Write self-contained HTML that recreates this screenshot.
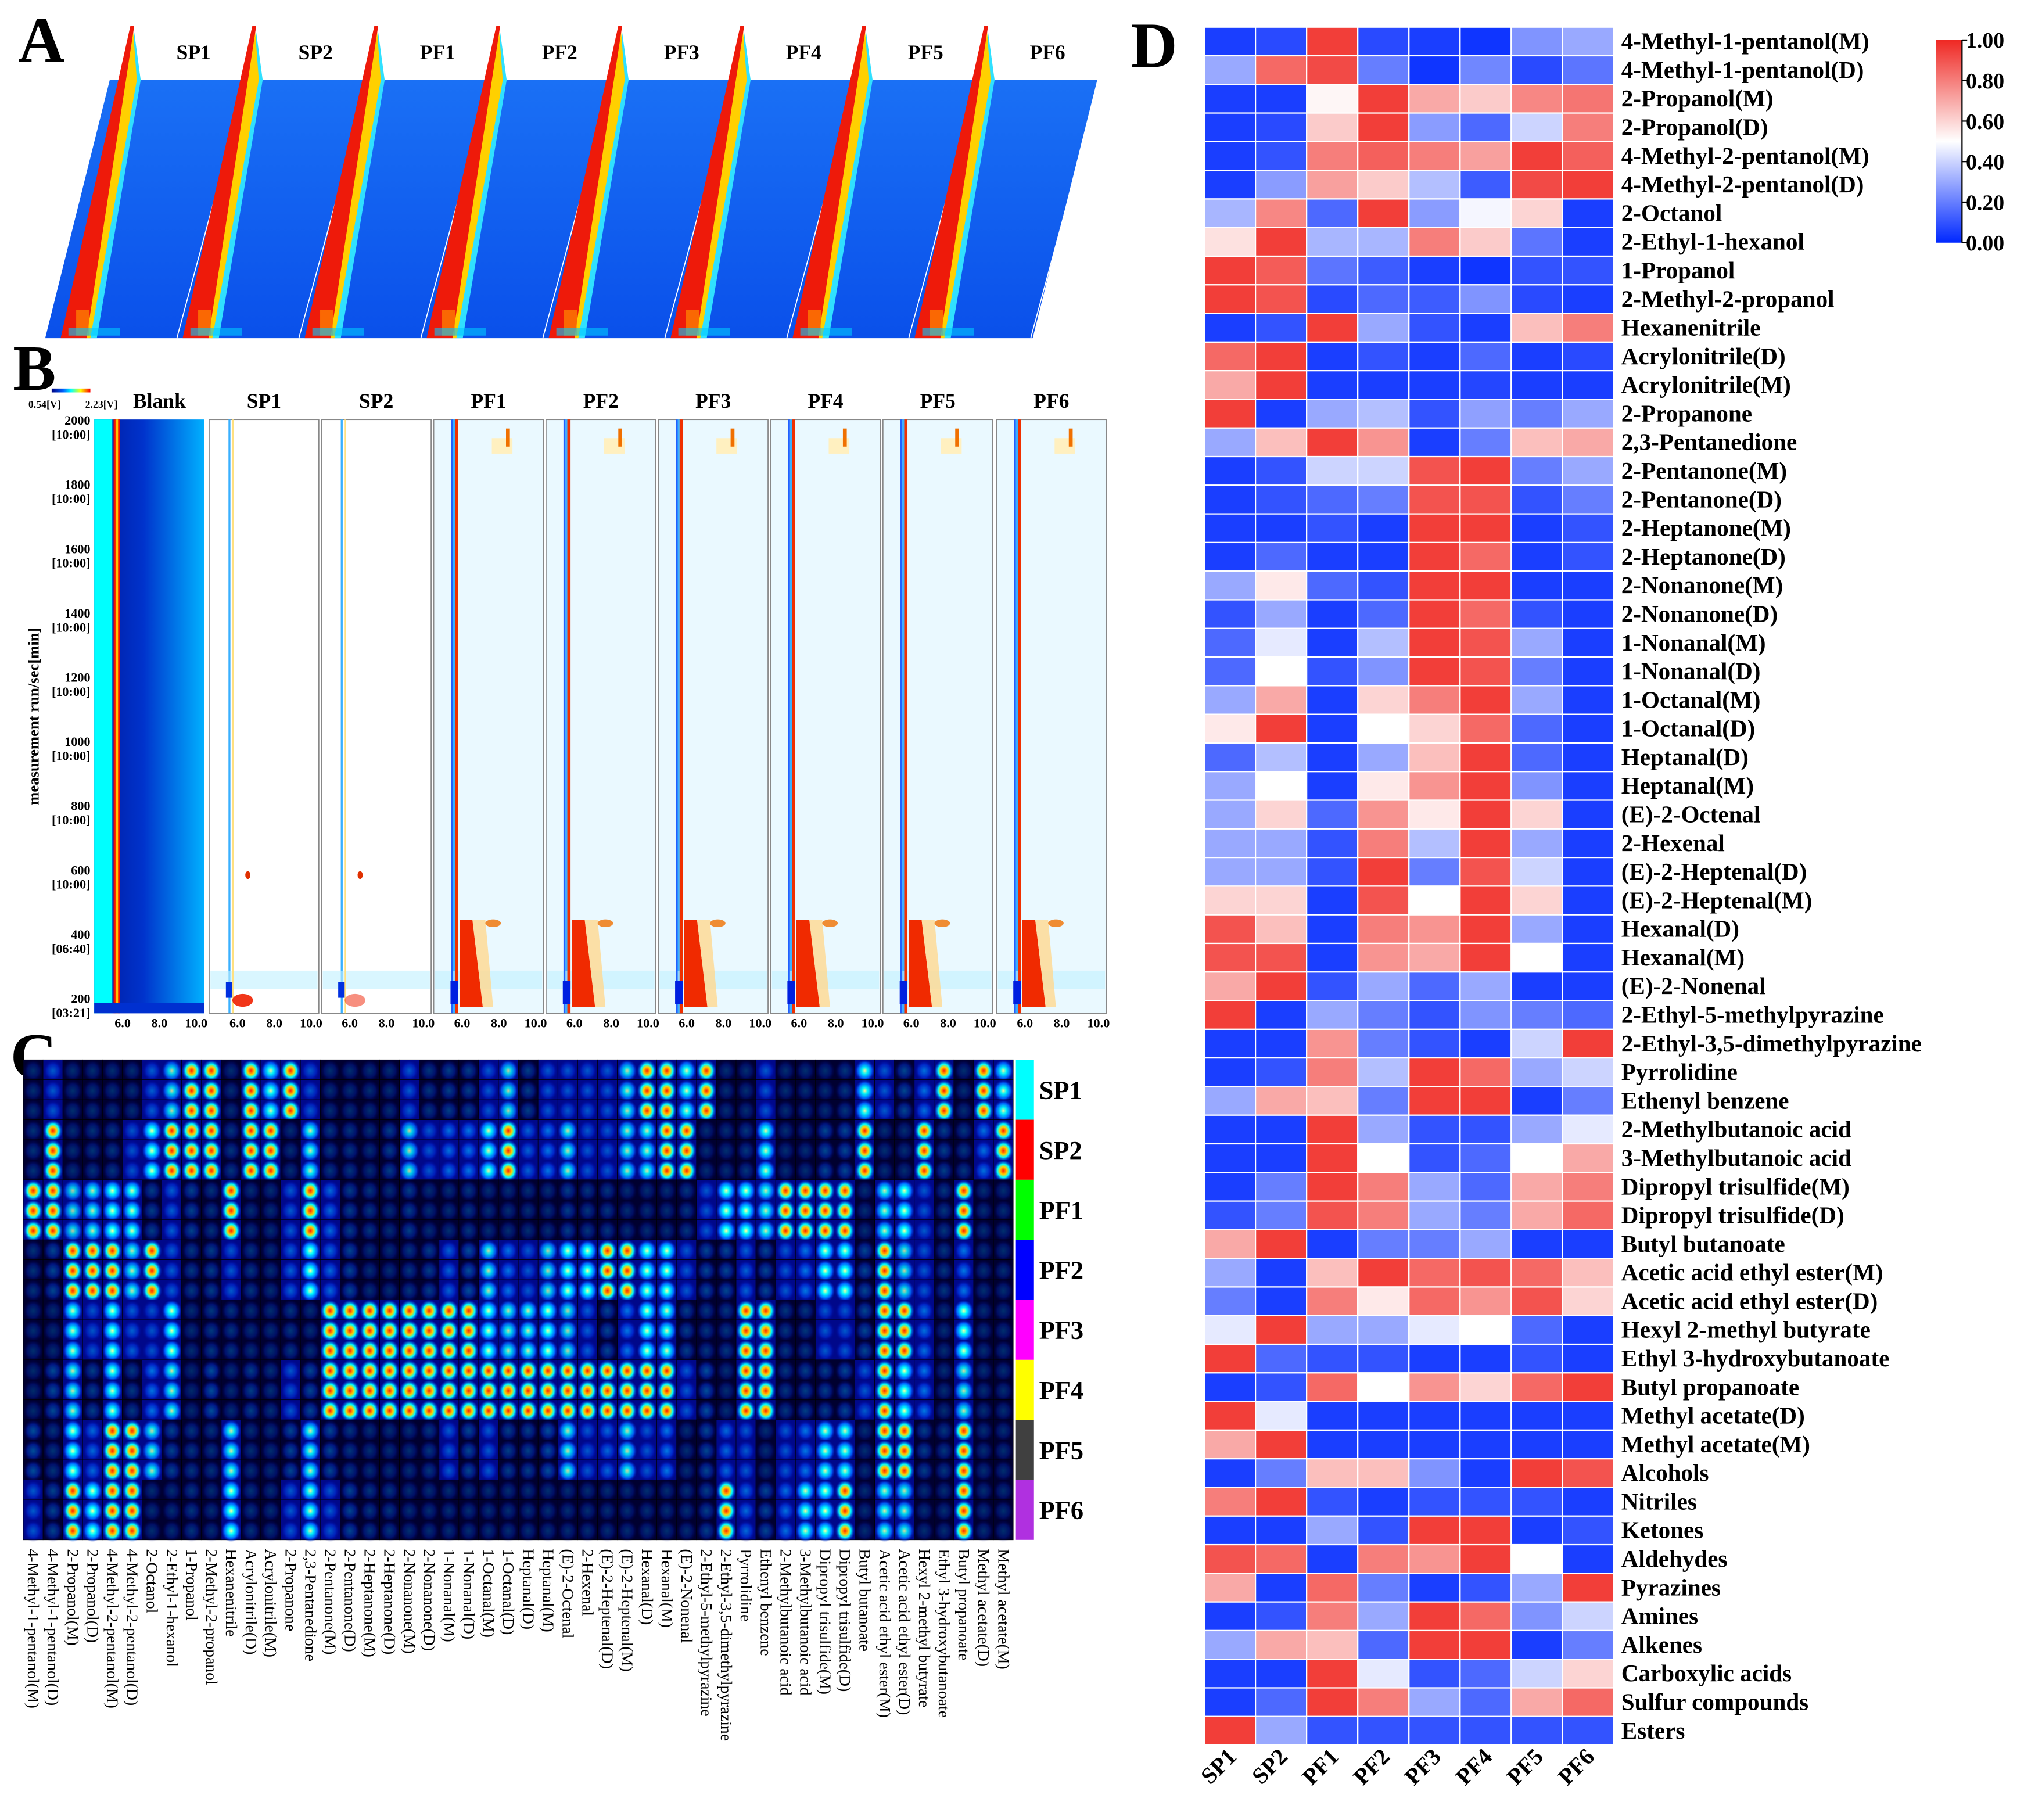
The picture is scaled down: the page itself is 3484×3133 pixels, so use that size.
<!DOCTYPE html>
<html><head><meta charset="utf-8">
<style>html,body{margin:0;padding:0;background:#fff;}svg{display:block;}text{font-family:"Liberation Serif",serif;}</style>
</head><body>
<svg id="fig" xmlns="http://www.w3.org/2000/svg" width="3484" height="3133" viewBox="0 0 1568 1410">
<defs>
<linearGradient id="cbar" x1="0" y1="1" x2="0" y2="0">
<stop offset="0" stop-color="#0028ff"/><stop offset="0.5" stop-color="#ffffff"/><stop offset="1" stop-color="#ef2823"/></linearGradient>
<linearGradient id="blankg" x1="0" x2="1"><stop offset="0" stop-color="#001a9e"/><stop offset="0.45" stop-color="#0033cc"/><stop offset="1" stop-color="#00b0ff"/></linearGradient>
<linearGradient id="minibar" x1="0" x2="1"><stop offset="0" stop-color="#000080"/><stop offset="0.3" stop-color="#0060ff"/><stop offset="0.5" stop-color="#00ffff"/><stop offset="0.75" stop-color="#ffff00"/><stop offset="1" stop-color="#ff0000"/></linearGradient>
<linearGradient id="abg" x1="0" y1="0" x2="0" y2="1"><stop offset="0" stop-color="#1a70f5"/><stop offset="1" stop-color="#0a50ea"/></linearGradient>
<radialGradient id="blobHot"><stop offset="0" stop-color="#ff2000"/><stop offset="0.35" stop-color="#ffd000"/><stop offset="0.6" stop-color="#00ffff"/><stop offset="1" stop-color="#0030ff" stop-opacity="0"/></radialGradient>
<radialGradient id="blobMid"><stop offset="0" stop-color="#ffffa0"/><stop offset="0.3" stop-color="#00ffff"/><stop offset="0.7" stop-color="#0060ff"/><stop offset="1" stop-color="#0020c0" stop-opacity="0"/></radialGradient>
<radialGradient id="blobLow"><stop offset="0" stop-color="#00a0ff"/><stop offset="0.6" stop-color="#0030e0"/><stop offset="1" stop-color="#000090" stop-opacity="0"/></radialGradient>
</defs>
<g id="panelA"></g>
<g id="panelB"></g>
<g id="panelC"></g>
<g id="panelD"></g>
</svg>
<script>
const samples = ["SP1","SP2","PF1","PF2","PF3","PF4","PF5","PF6"];
const compounds = ["4-Methyl-1-pentanol(M)","4-Methyl-1-pentanol(D)","2-Propanol(M)","2-Propanol(D)","4-Methyl-2-pentanol(M)","4-Methyl-2-pentanol(D)","2-Octanol","2-Ethyl-1-hexanol","1-Propanol","2-Methyl-2-propanol","Hexanenitrile","Acrylonitrile(D)","Acrylonitrile(M)","2-Propanone","2,3-Pentanedione","2-Pentanone(M)","2-Pentanone(D)","2-Heptanone(M)","2-Heptanone(D)","2-Nonanone(M)","2-Nonanone(D)","1-Nonanal(M)","1-Nonanal(D)","1-Octanal(M)","1-Octanal(D)","Heptanal(D)","Heptanal(M)","(E)-2-Octenal","2-Hexenal","(E)-2-Heptenal(D)","(E)-2-Heptenal(M)","Hexanal(D)","Hexanal(M)","(E)-2-Nonenal","2-Ethyl-5-methylpyrazine","2-Ethyl-3,5-dimethylpyrazine","Pyrrolidine","Ethenyl benzene","2-Methylbutanoic acid","3-Methylbutanoic acid","Dipropyl trisulfide(M)","Dipropyl trisulfide(D)","Butyl butanoate","Acetic acid ethyl ester(M)","Acetic acid ethyl ester(D)","Hexyl 2-methyl butyrate","Ethyl 3-hydroxybutanoate","Butyl propanoate","Methyl acetate(D)","Methyl acetate(M)","Alcohols","Nitriles","Ketones","Aldehydes","Pyrazines","Amines","Alkenes","Carboxylic acids","Sulfur compounds","Esters"];
const values = [
[0.05,0.08,0.95,0.08,0.05,0.03,0.25,0.3],
[0.3,0.85,0.92,0.2,0.03,0.22,0.08,0.18],
[0.05,0.05,0.52,0.95,0.7,0.62,0.78,0.82],
[0.05,0.08,0.62,0.95,0.27,0.15,0.4,0.8],
[0.05,0.1,0.8,0.87,0.8,0.72,0.95,0.87],
[0.05,0.27,0.72,0.62,0.35,0.12,0.92,0.95],
[0.33,0.78,0.15,0.95,0.27,0.48,0.6,0.05],
[0.57,0.95,0.33,0.33,0.8,0.62,0.18,0.05],
[0.95,0.88,0.18,0.12,0.05,0.03,0.1,0.1],
[0.95,0.9,0.08,0.15,0.12,0.25,0.08,0.05],
[0.05,0.1,0.95,0.3,0.1,0.05,0.65,0.8],
[0.85,0.95,0.05,0.1,0.05,0.15,0.05,0.08],
[0.7,0.95,0.05,0.05,0.05,0.07,0.05,0.05],
[0.95,0.05,0.3,0.35,0.1,0.28,0.2,0.3],
[0.3,0.65,0.95,0.75,0.05,0.2,0.65,0.7],
[0.05,0.1,0.4,0.4,0.9,0.95,0.2,0.3],
[0.05,0.1,0.15,0.2,0.9,0.9,0.1,0.2],
[0.05,0.05,0.1,0.05,0.95,0.95,0.05,0.1],
[0.05,0.15,0.05,0.05,0.95,0.85,0.05,0.1],
[0.3,0.55,0.15,0.1,0.95,0.95,0.05,0.05],
[0.1,0.3,0.05,0.15,0.95,0.85,0.1,0.05],
[0.15,0.45,0.05,0.35,0.95,0.9,0.3,0.05],
[0.15,0.5,0.1,0.25,0.95,0.9,0.2,0.05],
[0.3,0.7,0.05,0.6,0.8,0.95,0.3,0.05],
[0.55,0.95,0.05,0.5,0.6,0.85,0.15,0.05],
[0.15,0.35,0.05,0.3,0.65,0.95,0.15,0.05],
[0.3,0.5,0.05,0.55,0.75,0.95,0.25,0.05],
[0.3,0.6,0.15,0.75,0.55,0.95,0.6,0.05],
[0.3,0.3,0.1,0.8,0.35,0.95,0.3,0.05],
[0.3,0.3,0.1,0.95,0.2,0.9,0.4,0.05],
[0.6,0.6,0.05,0.9,0.5,0.95,0.6,0.05],
[0.9,0.65,0.05,0.8,0.75,0.95,0.3,0.05],
[0.9,0.9,0.05,0.75,0.7,0.95,0.5,0.05],
[0.7,0.95,0.1,0.3,0.15,0.3,0.05,0.05],
[0.95,0.05,0.3,0.2,0.1,0.25,0.2,0.15],
[0.05,0.05,0.75,0.2,0.1,0.05,0.4,0.95],
[0.05,0.1,0.8,0.35,0.95,0.85,0.3,0.4],
[0.3,0.7,0.65,0.2,0.95,0.95,0.05,0.2],
[0.05,0.05,0.95,0.3,0.1,0.1,0.3,0.45],
[0.05,0.05,0.95,0.5,0.1,0.15,0.5,0.7],
[0.05,0.2,0.95,0.8,0.3,0.15,0.7,0.8],
[0.1,0.2,0.9,0.8,0.3,0.2,0.7,0.85],
[0.7,0.95,0.05,0.2,0.2,0.3,0.05,0.05],
[0.3,0.05,0.65,0.95,0.85,0.9,0.85,0.65],
[0.2,0.05,0.8,0.55,0.85,0.75,0.9,0.6],
[0.45,0.95,0.3,0.3,0.45,0.5,0.15,0.05],
[0.95,0.15,0.1,0.1,0.05,0.05,0.1,0.05],
[0.05,0.1,0.85,0.5,0.75,0.6,0.85,0.95],
[0.95,0.45,0.05,0.05,0.05,0.05,0.05,0.05],
[0.7,0.95,0.05,0.05,0.05,0.05,0.05,0.05],
[0.05,0.2,0.65,0.65,0.25,0.05,0.95,0.9],
[0.8,0.95,0.1,0.05,0.1,0.1,0.1,0.05],
[0.05,0.05,0.3,0.1,0.95,0.95,0.05,0.1],
[0.9,0.85,0.05,0.8,0.75,0.95,0.5,0.05],
[0.7,0.05,0.85,0.2,0.05,0.1,0.3,0.95],
[0.05,0.1,0.8,0.3,0.95,0.85,0.25,0.4],
[0.3,0.7,0.65,0.15,0.95,0.95,0.05,0.2],
[0.05,0.05,0.95,0.45,0.1,0.15,0.4,0.6],
[0.05,0.15,0.95,0.8,0.3,0.15,0.7,0.85],
[0.95,0.3,0.1,0.1,0.1,0.1,0.1,0.1]];
const colorbarTicks = [0,0.2,0.4,0.6,0.8,1.0];
const bPanels = ["Blank","SP1","SP2","PF1","PF2","PF3","PF4","PF5","PF6"];
const bYTicks = [200,400,600,800,1000,1200,1400,1600,1800,2000];
const bYSub = ["[03:21]","[06:40]","[10:00]","[10:00]","[10:00]","[10:00]","[10:00]","[10:00]","[10:00]","[10:00]"];
const bXTicks = [6.0,8.0,10.0];
const bandColors = ["#00ffff","#ff0000","#00ff00","#0000ff","#ff00ff","#ffff00","#404040","#b030e0"];

const NS="http://www.w3.org/2000/svg";
function mk(parent,tag,attrs,txt){const e=document.createElementNS(NS,tag);for(const k in attrs)e.setAttribute(k,attrs[k]);if(txt!==undefined)e.textContent=txt;parent.appendChild(e);return e;}
function lerp(a,b,t){return Math.round(a+(b-a)*t);}
function heatColor(v){const B=[0,40,255],W=[255,255,255],R=[240,40,35];let c;if(v<0.5){const t=v/0.5;c=[lerp(B[0],W[0],t),lerp(B[1],W[1],t),lerp(B[2],W[2],t)];}else{const t=(v-0.5)/0.5;c=[lerp(W[0],R[0],t),lerp(W[1],R[1],t),lerp(W[2],R[2],t)];}return `rgb(${c[0]},${c[1]},${c[2]})`;}

// ---------- Panel A ----------
const A=document.getElementById('panelA');
let t=mk(A,'text',{x:14,y:48,'font-size':50,'font-weight':'bold'},'A');

let bg=mk(A,'polygon',{points:"85,62 850,62 800,262 35,262",fill:"url(#abg)"});

const aSamples=["SP1","SP2","PF1","PF2","PF3","PF4","PF5","PF6"];
for(let i=0;i<8;i++){
  const tx=103+i*94.5, bx=tx-52;
  const g=mk(A,'g',{});
  
  mk(g,'line',{x1:bx+86,y1:262,x2:tx+88,y2:62,stroke:"#ffffff","stroke-width":0.8});
  mk(g,'polygon',{points:`${bx+18},262 ${tx+1},25 ${tx+6},62 ${bx+24},262`,fill:"#30e0ff"});
  mk(g,'polygon',{points:`${bx+15},262 ${tx},22 ${tx+3},62 ${bx+19},262`,fill:"#ffd000"});
  mk(g,'polygon',{points:`${bx-4},262 ${tx-2},20 ${tx+1},20 ${bx+16},262`,fill:"#ee1a0a"});
  mk(g,'rect',{x:bx+8,y:240,width:10,height:20,fill:"#ff8a00",opacity:0.7});
  mk(g,'rect',{x:bx+2,y:254,width:40,height:6,fill:"#00c8ff",opacity:0.6});
  const lb=mk(A,'text',{x:tx+47,y:46,'font-size':16,'font-weight':'bold','text-anchor':'middle'},aSamples[i]);
  
}

// ---------- Panel B ----------
const Bp=document.getElementById('panelB');
t=mk(Bp,'text',{x:10,y:302,'font-size':50,'font-weight':'bold'},'B');

let cb=mk(Bp,'rect',{x:40,y:301,width:30,height:3,fill:"url(#minibar)"});

t=mk(Bp,'text',{x:22,y:316,'font-size':8,'font-weight':'bold'},'0.54[V]');
t=mk(Bp,'text',{x:66,y:316,'font-size':8,'font-weight':'bold'},'2.23[V]');
const by0=325, by1=785;
const byScale=v=>by1-10-(v-200)/(2000-200)*(by1-by0-12);
const bLeft=[73,162,249,336,423,510,597,684,772], bW=85;
for(let p=0;p<9;p++){
  const x0=bLeft[p];
  const g=mk(Bp,'g',{});
  
  const bxS=v=>x0+22+(v-6)/4*(bW-28);
  if(p===0){
    mk(g,'rect',{x:x0,y:by0,width:bW,height:by1-by0,fill:"url(#blankg)"});
    mk(g,'rect',{x:x0,y:by0,width:14,height:by1-by0,fill:"#00ffff"});
    mk(g,'rect',{x:x0+15,y:by0,width:5,height:by1-by0,fill:"#f01000"});
    mk(g,'rect',{x:x0+16.5,y:by0,width:2,height:by1-by0,fill:"#ffc000"});
    mk(g,'rect',{x:x0,y:777,width:bW,height:8,fill:"#0030d0"});
  } else {
    const pf=p>=3;
    mk(g,'rect',{x:x0,y:by0,width:bW,height:by1-by0,fill:pf?"#eaf9ff":"#ffffff",stroke:"#888","stroke-width":0.8});
    mk(g,'rect',{x:x0+15,y:by0,width:1.5,height:by1-by0,fill:"#39b0ff"});
    mk(g,'rect',{x:x0+1,y:752,width:bW-2,height:14,fill:"#bff0ff",opacity:0.6});
    if(pf){
      mk(g,'rect',{x:x0+16.5,y:by0,width:2.5,height:by1-by0,fill:"#f03000"});
      mk(g,'rect',{x:x0+13.5,y:by0,width:1.5,height:by1-by0,fill:"#2060ff"});
      mk(g,'polygon',{points:`${x0+20},${byScale(450)} ${x0+30},${byScale(450)} ${x0+38},${byScale(180)} ${x0+20},${byScale(180)}`,fill:"#f02a00"});
      mk(g,'polygon',{points:`${x0+30},${byScale(450)} ${x0+40},${byScale(450)} ${x0+46},${byScale(180)} ${x0+38},${byScale(180)}`,fill:"#ffd890",opacity:0.8});
      mk(g,'rect',{x:x0+45,y:byScale(1950),width:16,height:12,fill:"#fff0c0"});
      mk(g,'rect',{x:x0+56,y:byScale(1980),width:3,height:14,fill:"#f07000"});
      mk(g,'ellipse',{cx:x0+46,cy:byScale(440),rx:6,ry:3,fill:"#f07000",opacity:0.8});
      mk(g,'rect',{x:x0+13,y:by1-25,width:6,height:18,fill:"#0020e0"});
    } else {
      mk(g,'rect',{x:x0+18,y:by0,width:1,height:by1-by0,fill:"#ffe080"});
      mk(g,'ellipse',{cx:x0+26,cy:byScale(200),rx:8,ry:5,fill:"#f02000",opacity:p===1?0.9:0.5});
      mk(g,'ellipse',{cx:x0+30,cy:byScale(590),rx:2,ry:3,fill:"#e03000"});
      mk(g,'rect',{x:x0+13,y:by1-24,width:5,height:12,fill:"#0030e0"});
    }
  }
  const lb=mk(Bp,'text',{x:x0+bW/2+(p===0?8:0),y:316,'font-size':16,'font-weight':'bold','text-anchor':'middle'},bPanels[p]);
  
  bXTicks.forEach(v=>{const tk=mk(Bp,'text',{x:bxS(v),y:796,'font-size':10,'font-weight':'bold','text-anchor':'middle'},v.toFixed(1));
    });
}
bYTicks.forEach((v,i)=>{const y=byScale(v);
  let tk=mk(Bp,'text',{x:70,y:y+2,'font-size':10,'font-weight':'bold','text-anchor':'end'},String(v));
  
  tk=mk(Bp,'text',{x:70,y:y+13,'font-size':10,'font-weight':'bold','text-anchor':'end'},bYSub[i]);
  });
t=mk(Bp,'text',{x:30,y:555,'font-size':12,'font-weight':'bold','text-anchor':'middle',transform:'rotate(-90 30 555)'},'measurement run/sec[min]');


// ---------- Panel C ----------
const C=document.getElementById('panelC');
t=mk(C,'text',{x:8,y:835,'font-size':50,'font-weight':'bold'},'C');

const cx0=18,cx1=785,cy0=821,cy1=1193,nC=50;
const cw=(cx1-cx0)/nC, bandH=(cy1-cy0)/8, rowH=bandH/3;
mk(C,'rect',{x:cx0,y:cy0,width:cx1-cx0,height:cy1-cy0,fill:"#000010"});
for(let j=0;j<nC;j++){
  for(let s=0;s<8;s++){
    const v=values[j][s];
    for(let r=0;r<3;r++){
      const x=cx0+j*cw, y=cy0+s*bandH+r*rowH;
      const cell=mk(C,'g',{});
      
      mk(cell,'rect',{x:x,y:y,width:cw,height:rowH,fill:v>0.25?"#00088a":"#000030",stroke:"#000",'stroke-width':0.3});
      const grad=v>0.8?"url(#blobHot)":(v>0.5?"url(#blobMid)":"url(#blobLow)");
      mk(cell,'ellipse',{cx:x+cw/2,cy:y+rowH*0.55,rx:cw*0.5,ry:rowH*0.55,fill:grad,opacity:Math.min(1,0.25+v)});
    }
  }
}
for(let s=0;s<8;s++){
  const bar=mk(C,'rect',{x:cx1+2,y:cy0+s*bandH,width:14,height:bandH,fill:bandColors[s]});
  
  const lb=mk(C,'text',{x:805,y:cy0+s*bandH+bandH/2+7,'font-size':20,'font-weight':'bold'},samples[s]);
  
}
for(let j=0;j<nC;j++){
  const x=cx0+j*cw+cw/2-4;
  const lb=mk(C,'text',{x:x,y:1200,'font-size':12.5,transform:`rotate(90 ${x} 1200)`},compounds[j]);
  
}

// ---------- Panel D ----------
const D=document.getElementById('panelD');
t=mk(D,'text',{x:876,y:52,'font-size':50,'font-weight':'bold'},'D');

const hx0=933,hx1=1250,hy0=21,hy1=1352;
const colW=(hx1-hx0)/samples.length, rowHt=(hy1-hy0)/compounds.length;
const xS=i=>hx0+i*colW, yS=i=>hy0+i*rowHt;
for(let r=0;r<compounds.length;r++){
  for(let c=0;c<samples.length;c++){
    const cell=mk(D,'rect',{x:xS(c),y:yS(r),width:colW,height:rowHt,fill:heatColor(values[r][c]),stroke:"#ffffff","stroke-width":1});
    
  }
  const lb=mk(D,'text',{x:1256,y:yS(r)+rowHt/2+6,'font-size':18.5,'font-weight':'bold'},compounds[r]);
  
}
samples.forEach((s,c)=>{const x=xS(c)+colW/2+6,y=1362;
  const lb=mk(D,'text',{x:x,y:y,'font-size':18,'font-weight':'bold','text-anchor':'end',transform:`rotate(-45 ${x} ${y})`},s);
  });
const cbx=1500,cby0=31,cby1=188;
const cbar=mk(D,'rect',{x:cbx,y:cby0,width:20,height:cby1-cby0,fill:"url(#cbar)"});

mk(D,'line',{x1:cbx+20,y1:cby0,x2:cbx+20,y2:cby1,stroke:"#000","stroke-width":1});
colorbarTicks.forEach(v=>{const y=cby1-v*(cby1-cby0);
  mk(D,'line',{x1:cbx+20,y1:y,x2:cbx+24,y2:y,stroke:"#000","stroke-width":1});
  const lb=mk(D,'text',{x:cbx+23,y:y+6,'font-size':17,'font-weight':'bold'},v.toFixed(2));
  });
</script>
</body></html>
